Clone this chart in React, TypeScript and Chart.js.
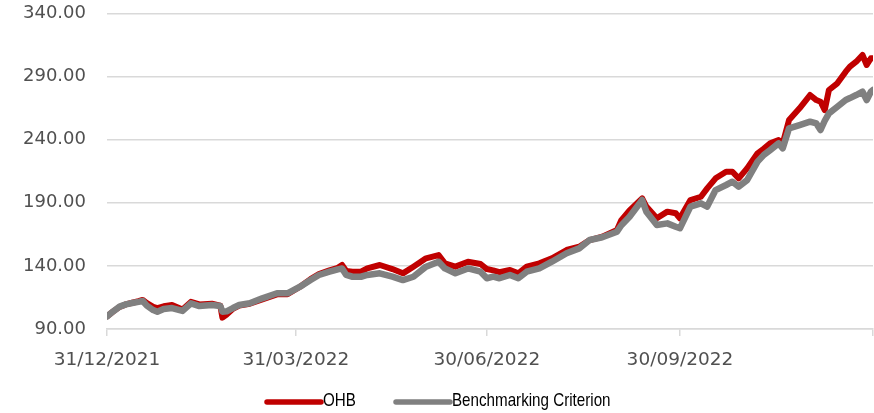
import React, { useEffect, useRef } from "react";
import { Chart, registerables } from "chart.js";

Chart.register(...registerables);

const dates: string[] = [
  "2021-12-31", "2022-01-03", "2022-01-06", "2022-01-09", "2022-01-12", "2022-01-15", "2022-01-17", "2022-01-19",
  "2022-01-22", "2022-01-24", "2022-01-27", "2022-01-31", "2022-02-05", "2022-02-09", "2022-02-13", "2022-02-19",
  "2022-02-23", "2022-02-24", "2022-02-26", "2022-03-01", "2022-03-04", "2022-03-09", "2022-03-15", "2022-03-22",
  "2022-03-27", "2022-04-02", "2022-04-07", "2022-04-11", "2022-04-16", "2022-04-20", "2022-04-22", "2022-04-24",
  "2022-04-27", "2022-05-01", "2022-05-04", "2022-05-10", "2022-05-16", "2022-05-21", "2022-05-26", "2022-06-01",
  "2022-06-07", "2022-06-10", "2022-06-15", "2022-06-21", "2022-06-27", "2022-06-30", "2022-07-03", "2022-07-06",
  "2022-07-11", "2022-07-15", "2022-07-19", "2022-07-25", "2022-07-31", "2022-08-07", "2022-08-13", "2022-08-18",
  "2022-08-24", "2022-08-31", "2022-09-02", "2022-09-06", "2022-09-12", "2022-09-14", "2022-09-19", "2022-09-24",
  "2022-09-28", "2022-09-30", "2022-10-05", "2022-10-10", "2022-10-13", "2022-10-17", "2022-10-22", "2022-10-25",
  "2022-10-28", "2022-11-01", "2022-11-06", "2022-11-09", "2022-11-12", "2022-11-16", "2022-11-18", "2022-11-21",
  "2022-11-26", "2022-12-01", "2022-12-04", "2022-12-06", "2022-12-08", "2022-12-10", "2022-12-14", "2022-12-18",
  "2022-12-20", "2022-12-23", "2022-12-26", "2022-12-28", "2022-12-30", "2022-12-31",
];

const ohb: number[] = [
  100, 104, 107.5, 109.5, 110.8, 112, 113, 110.5,
  107.5, 106.5, 108, 109, 105.5, 111.5, 109.5, 110,
  108.5, 99, 101.5, 106, 108.5, 110, 113.5, 117.5,
  117.5, 123.5, 129.5, 133.5, 136.5, 138.5, 140.7, 136,
  135.4, 135.4, 138, 140.7, 137.5, 134.1, 139.4, 146,
  148.6, 142, 139.4, 143.3, 141.5, 137.5, 136.5, 135,
  136.8, 134.1, 139.4, 142, 146, 152.6, 155.2, 160.5,
  163.1, 168.4, 176, 184, 193.5, 187, 177.7, 183,
  181.7, 177.7, 192.2, 194.8, 201.4, 209.4, 214.6, 214.6,
  209.4, 217.3, 229.2, 233, 237.1, 239.7, 237.1, 255.6,
  264.9, 275.4, 271.4, 270.1, 263.5, 279.4, 284.7, 293.9,
  297.9, 301.8, 307.1, 299.2, 304.5, 304.5,
];

const benchmark: number[] = [
  100, 104, 107.7, 109.5, 110.6, 111.5, 112.2, 108.5,
  105, 103.7, 105.8, 106.6, 104.3, 110.3, 108.2, 109,
  108.2, 103.7, 104, 106.6, 109, 110.4, 114.3, 118.3,
  118.3, 123.5, 128.8, 132.8, 135.4, 137.3, 138, 132.8,
  131.4, 131.4, 132.8, 134.1, 131.5, 128.8, 131.4, 139.4,
  143.3, 138, 134.1, 138, 135.4, 130.2, 131.5, 130.2,
  132.8, 130.2, 135.4, 138, 143.3, 150, 153.9, 160.5,
  162.7, 167.1, 172, 179, 192.2, 183, 172.4, 173.7,
  171, 169.8, 187, 189.6, 187, 200.1, 204.1, 206.7,
  202.8, 208, 222.6, 228, 231.8, 237.1, 233.2, 249,
  251.6, 254.3, 252.9, 247.7, 255, 260.9, 266.1, 271.5,
  273, 275.4, 278, 271.4, 278, 279.4,
];

const tickDates: string[] = ["2021-12-31", "2022-03-31", "2022-06-30", "2022-09-30", "2022-12-31"];
const tickLabels: string[] = ["31/12/2021", "31/03/2022", "30/06/2022", "30/09/2022", ""];

const yMin = 90;
const yMax = 340;
const yStep = 50;

const seriesNames: string[] = ["OHB", "Benchmarking Criterion"];
const seriesColors: string[] = ["#C00000", "#808080"];

const origin = Date.UTC(2021, 11, 31);
const toDay = (s: string): number => {
  const [y, m, d] = s.split("-").map(Number);
  return Math.round((Date.UTC(y, m - 1, d) - origin) / 86400000);
};

const legendPlugin = {
  id: "customLegend",
  afterDraw(chart: any) {
    const ctx: CanvasRenderingContext2D = chart.ctx;
    const items = [
      { x0: 267, x1: 321, tx: 323, width: 5.5 },
      { x0: 396, x1: 450, tx: 452, width: 5.5 },
    ];
    ctx.save();
    items.forEach((it, i) => {
      ctx.strokeStyle = seriesColors[i];
      ctx.lineWidth = it.width;
      ctx.lineCap = "round";
      ctx.beginPath();
      ctx.moveTo(it.x0, 402);
      ctx.lineTo(it.x1, 402);
      ctx.stroke();
      ctx.save();
      ctx.translate(it.tx, 406);
      ctx.scale(0.82, 1);
      ctx.fillStyle = "#000000";
      ctx.font = '18.5px "Liberation Sans", Arial, sans-serif';
      ctx.textBaseline = "alphabetic";
      ctx.textAlign = "left";
      ctx.fillText(seriesNames[i], 0, 0);
      ctx.restore();
    });
    ctx.restore();
  },
};

export default function App() {
  const canvasRef = useRef<HTMLCanvasElement | null>(null);

  useEffect(() => {
    if (!canvasRef.current) return;
    const days = dates.map(toDay);
    const tickDays = tickDates.map(toDay);
    const chart = new Chart(canvasRef.current, {
      type: "line",
      data: {
        datasets: [
          {
            label: seriesNames[0],
            data: days.map((d, i) => ({ x: d, y: ohb[i] })),
            borderColor: seriesColors[0],
            backgroundColor: seriesColors[0],
            borderWidth: 6,
            pointRadius: 0,
            tension: 0,
            borderCapStyle: "round",
            borderJoinStyle: "round",
            order: 1,
          },
          {
            label: seriesNames[1],
            data: days.map((d, i) => ({ x: d, y: benchmark[i] })),
            borderColor: seriesColors[1],
            backgroundColor: seriesColors[1],
            borderWidth: 6.5,
            pointRadius: 0,
            tension: 0,
            borderCapStyle: "round",
            borderJoinStyle: "round",
            order: 0,
          },
        ],
      },
      options: {
        responsive: false,
        animation: false,
        devicePixelRatio: 1,
        layout: { padding: { top: 13.5, right: 1, left: 0, bottom: 0 } },
        plugins: { legend: { display: false }, tooltip: { enabled: false } },
        scales: {
          x: {
            type: "linear",
            min: tickDays[0],
            max: tickDays[tickDays.length - 1],
            afterBuildTicks: (scale: any) => {
              scale.ticks = tickDays.map((v) => ({ value: v }));
            },
            afterFit: (scale: any) => {
              scale.height = 84;
              scale.paddingLeft = 0;
              scale.paddingRight = 0;
            },
            ticks: {
              autoSkip: false,
              maxRotation: 0,
              padding: 13,
              color: "#505050",
              font: { family: '"DejaVu Sans", Verdana, sans-serif', size: 18.5 },
              callback: (_v: any, i: number) => tickLabels[i] ?? "",
            },
            grid: {
              drawOnChartArea: false,
              drawTicks: true,
              tickLength: 7,
              color: "#d9d9d9",
              lineWidth: 1.5,
            },
            border: { display: true, color: "#d9d9d9", width: 1.5 },
          },
          y: {
            min: yMin,
            max: yMax,
            afterFit: (scale: any) => {
              scale.width = 107;
              scale.paddingTop = 0;
              scale.paddingBottom = 0;
            },
            ticks: {
              stepSize: yStep,
              padding: 21,
              color: "#505050",
              font: { family: '"DejaVu Sans", Verdana, sans-serif', size: 18 },
              callback: (v: any) => Number(v).toFixed(2),
            },
            grid: { color: "#d9d9d9", lineWidth: 1.5, drawTicks: false },
            border: { display: false },
          },
        },
      },
      plugins: [legendPlugin],
    });
    return () => chart.destroy();
  }, []);

  return (
    <div style={{ position: "absolute", left: 0, top: 0, width: 874, height: 413 }}>
      <canvas ref={canvasRef} width={874} height={413} style={{ display: "block" }} />
    </div>
  );
}
